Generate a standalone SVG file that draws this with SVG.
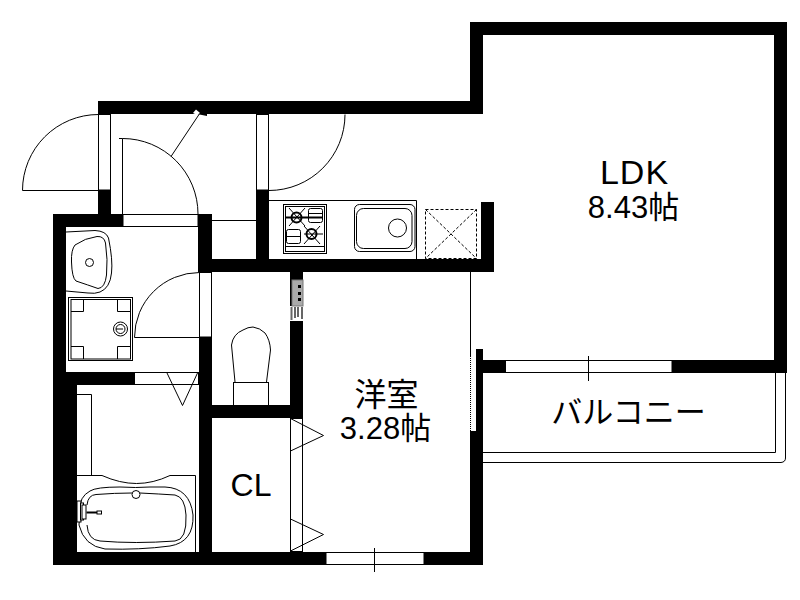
<svg xmlns="http://www.w3.org/2000/svg" width="800" height="600" viewBox="0 0 800 600">
<style>
.w{fill:#000}
.l{fill:none;stroke:#000;stroke-width:1}
.f{fill:#fff;stroke:#000;stroke-width:1}
.d{fill:none;stroke:#000;stroke-width:1;stroke-dasharray:3 2}
text{font-family:"Liberation Sans","Noto Sans CJK JP",sans-serif;fill:#000;text-anchor:middle}
</style>
<rect width="800" height="600" fill="#fff"/>
<g id="walls">
<path class="w" d="M98 101H470V22H787V373H672V360H774V35H483V114H111V190H98Z"/>
<rect class="w" x="98" y="190" width="13" height="25"/>
<rect class="w" x="53" y="214" width="70" height="13"/>
<rect class="w" x="53" y="214" width="13" height="351"/>
<rect class="w" x="53" y="372" width="24" height="193"/>
<rect class="w" x="53" y="372" width="81" height="13"/>
<rect class="w" x="198" y="214" width="14" height="58"/>
<rect class="w" x="199" y="337" width="13" height="228"/>
<rect class="w" x="198" y="259" width="296" height="13"/>
<rect class="w" x="256" y="190" width="13" height="70"/>
<rect class="w" x="481" y="202" width="13" height="70"/>
<rect class="w" x="290" y="272" width="13" height="146"/>
<rect class="w" x="212" y="405" width="91" height="13"/>
<rect class="w" x="53" y="552" width="430" height="13"/>
<rect class="w" x="470" y="431" width="13" height="134"/>
<rect class="w" x="476" y="349" width="7" height="82"/>
<rect class="w" x="476" y="360" width="30" height="13"/>
</g>
<g id="openings">
<rect class="f" x="98.5" y="114.5" width="12" height="75.5"/>
<rect class="f" x="256.5" y="114.5" width="12" height="75.5"/>
<rect class="f" x="123" y="214.5" width="75" height="12"/>
<rect class="f" x="199.5" y="272.5" width="12" height="64.5"/>
<rect class="f" x="134.5" y="372.5" width="64" height="12"/>
<rect class="f" x="290.5" y="418.5" width="12" height="133"/>
<rect class="f" x="326" y="552.5" width="98" height="12"/>
<rect class="f" x="505.5" y="360.5" width="166.5" height="12"/>
<path class="l" d="M374.5 548V572M588.5 356V381"/>
<path class="l" d="M470.5 272V356"/>
<path d="M470.5 356V431" fill="none" stroke="#000" stroke-dasharray="1 1"/>
</g>
<g id="doors">
<path class="l" d="M98.5 114.5A76 76 0 0 0 22.5 190.5H98"/>
<path class="l" d="M119 138.5H122.5V214M122.5 138.5A75.5 75.5 0 0 1 198 214"/>
<path class="l" d="M171 156.5L200 113"/>
<path d="M193 110L197 114L207 116V114L198 110Z" fill="#000"/>
<path d="M193 113L196 109.5L200 113L197 115Z" fill="#fff"/>
<path class="l" d="M345 114.5A76 76 0 0 1 269 190.5"/>
<path class="l" d="M199.5 272.5A65 65 0 0 0 134.5 337.5H199"/>
<path class="l" d="M212 220.5H256"/>
<path class="l" d="M167 373L182.5 405.5L197.5 373"/>
<path class="l" d="M290.5 418.5L323.5 435.5L290.5 451"/>
<path class="l" d="M290.5 519L323.5 534.5L290.5 551"/>
</g>
<g id="kitchen">
<path class="l" d="M269 200.5H416.5V259"/>
<rect class="l" x="283.5" y="204.5" width="43" height="49"/>
<rect class="l" x="285.5" y="206.5" width="39" height="45"/>
<path class="l" d="M286 246.5H324"/>
<rect class="l" x="308.5" y="208.5" width="14" height="14" rx="2"/>
<rect class="l" x="286.5" y="229.5" width="14" height="14" rx="2"/>
<path d="M286 217.5H323" stroke="#000" stroke-width="2"/>
<path class="l" d="M286.5 236.5H300M304 234H323M309 213.5H322"/>
<path class="l" d="M289 208L305 226M305 208L289 226M304 226L320 244M320 226L304 244"/>
<circle cx="296.5" cy="217.5" r="5" fill="none" stroke="#000" stroke-width="2"/>
<circle cx="311.5" cy="234" r="5" fill="none" stroke="#000" stroke-width="2"/>
<rect class="l" x="354.5" y="204.5" width="60.5" height="47" rx="5"/>
<rect class="l" x="356.5" y="208.5" width="55.5" height="40" rx="7"/>
<circle class="l" cx="397.5" cy="228" r="9"/>
<path class="d" d="M425.5 209.5H476.5V258.5H425.5ZM425.5 209.5L476.5 258.5M476.5 209.5L425.5 258.5"/>
</g>
<g id="washroom">
<path class="l" d="M66 232L95 230.5Q106 231 108.5 238Q113 260 111.5 273Q110 288 100 292Q95 294 88 293L66 291"/>
<path class="l" d="M75 245Q85 238 97 236.5Q104 236 105.5 243Q108 260 106.5 275Q105 288 98 288.5Q88 285 76 281Q72 278 71.5 262Q71 250 75 245Z"/>
<circle class="l" cx="89.5" cy="262.5" r="4"/>
<rect class="l" x="68.5" y="297.5" width="64" height="63"/>
<rect class="l" x="71" y="299.5" width="59.5" height="59.5"/>
<path class="l" d="M71 311.5H83.5V299.5M117.5 299.5V311.5H130.5M71 346.5H83.5V359M117.5 359V346.5H130.5"/>
<circle class="l" cx="120.5" cy="329" r="7"/>
<circle class="l" cx="120.5" cy="329" r="4.5"/>
<path class="l" d="M116 329H123"/>
</g>
<g id="toilet">
<rect class="l" x="233.5" y="382.5" width="35" height="23"/>
<path class="l" d="M235 382L231.5 345Q233 334 243 330Q248 327 253 327Q260 328 265 333Q270 340 270.5 350L266.5 382"/>
</g>
<g id="panel">
<rect x="290" y="306" width="13" height="15" fill="#fff"/>
<rect x="292" y="280" width="11" height="26" fill="#aaa" stroke="#777"/>
<rect x="298" y="285" width="3" height="3" fill="#000"/>
<rect x="298" y="292" width="3" height="3" fill="#000"/>
<rect x="298" y="298" width="3" height="3" fill="#000"/>
<path d="M291.5 307V320M295 307V318M298 307V317M302 307V319" stroke="#666" stroke-width="2" fill="none"/>
</g>
<g id="bath">
<path class="l" d="M77 394.5H91.5V475.5"/>
<path class="l" d="M77 475.5H102Q120 483.5 136.5 483.5Q153 483.5 170 475.5H195.5V552"/>
<path class="l" d="M80 510Q79 497 90 491Q96 487 120 487Q136 488 150 487H165Q190 488 193 515Q194 542 170 546Q140 550 105 549Q84 546 79 525Z"/>
<path class="l" d="M87 505Q88 495 96 494.5Q115 493 132 493M140 493Q160 494 175 495Q185 497 186 515Q187 540 175 541Q135 544 100 541Q88 540 87 525"/>
<circle class="l" cx="136" cy="494.5" r="4"/>
<rect x="77" y="501" width="4" height="21" fill="#fff" stroke="#000"/>
<rect x="80.5" y="503" width="3" height="17" fill="#fff" stroke="#000"/>
<rect x="82" y="505" width="4" height="14" fill="#fff" stroke="#000"/>
<path d="M86.5 512.5H97" stroke="#000" stroke-width="2"/>
<rect class="l" x="97" y="511" width="4.5" height="3"/>
</g>
<g id="balcony">
<path class="l" d="M483 452.5H775.5V373"/>
<path class="l" d="M483 462.5H781Q785.5 462 785.5 458V373"/>
</g>
<g id="labels">
<text id="t-ldk" x="634.5" y="183.5" font-size="34" letter-spacing="1">LDK</text>
<text id="t-ldk2" x="633.5" y="217.5" font-size="31">8.43帖</text>
<text id="t-yoshitsu" x="386.5" y="406" font-size="32">洋室</text>
<text id="t-yoshitsu2" x="385.5" y="439" font-size="31">3.28帖</text>
<text id="t-cl" x="251" y="496" font-size="32">CL</text>
<text id="t-bal" x="628.5" y="423" font-size="31">バルコニー</text>
</g>
</svg>
